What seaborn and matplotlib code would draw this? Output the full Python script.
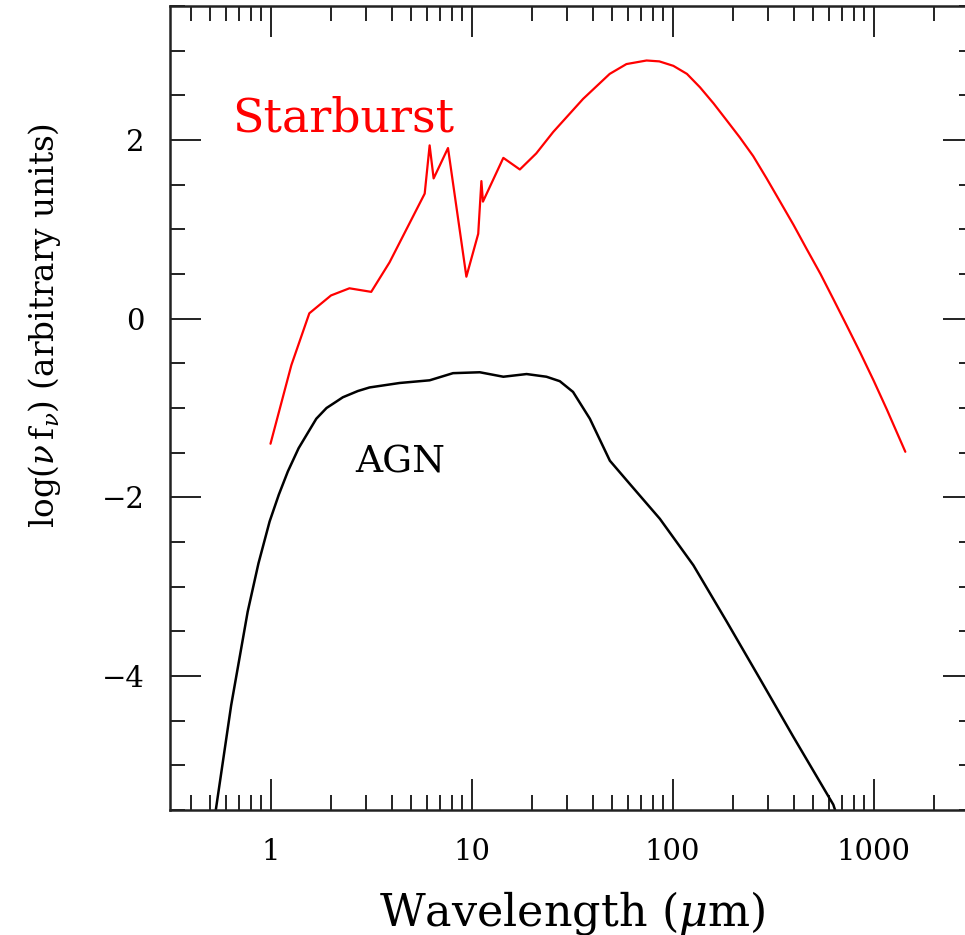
import numpy as np
import pandas as pd
import matplotlib
matplotlib.use("Agg")
import matplotlib.pyplot as plt
import matplotlib.ticker as mticker
import seaborn as sns

# starburst SED (wavelength in micron, log nu f_nu)
sb_wave = [1.0, 1.27, 1.56, 2.0, 2.47, 3.17, 3.91, 5.85, 6.19, 6.48, 7.64, 9.43,
           10.8, 11.2, 11.4, 14.4, 17.4, 21.0, 25.5, 35.9, 48.7, 59.0, 74.3,
           86.0, 101, 118, 137, 160, 186, 216, 252, 294, 343, 400, 465, 545,
           631, 737, 859, 1000, 1167, 1440]
sb_flux = [-1.40, -0.52, 0.06, 0.26, 0.34, 0.30, 0.63, 1.40, 1.94, 1.57, 1.91, 0.47,
           0.95, 1.54, 1.31, 1.80, 1.67, 1.85, 2.09, 2.46, 2.74, 2.85, 2.89,
           2.88, 2.83, 2.74, 2.59, 2.41, 2.22, 2.03, 1.82, 1.57, 1.31, 1.05, 0.78, 0.50,
           0.22, -0.08, -0.38, -0.69, -1.02, -1.49]

# AGN SED
agn_wave = [0.50, 0.536, 0.637, 0.77, 0.871, 0.99, 1.10, 1.22, 1.38, 1.56, 1.69, 1.9,
            2.12, 2.29, 2.72, 3.11, 4.39, 6.19, 8.09, 11.0, 14.4, 18.8, 23.6, 27.5,
            32.0, 38.8, 48.8, 61.3, 86.5, 127, 186, 272, 399, 631, 700]
agn_flux = [-5.95, -5.48, -4.33, -3.28, -2.74, -2.27, -1.97, -1.71, -1.45, -1.25, -1.12, -1.00,
            -0.93, -0.88, -0.81, -0.77, -0.72, -0.69, -0.61, -0.60, -0.65, -0.62, -0.65, -0.70,
            -0.82, -1.12, -1.59, -1.85, -2.24, -2.76, -3.39, -4.03, -4.68, -5.44, -5.75]

x_ticks = [1, 10, 100, 1000]
y_ticks = [-4, -2, 0, 2]

sb = pd.DataFrame({"wave": sb_wave, "flux": sb_flux})
agn = pd.DataFrame({"wave": agn_wave, "flux": agn_flux})

sns.set_style("ticks")
plt.rcParams["font.family"] = ["DejaVu Serif"]
plt.rcParams["mathtext.fontset"] = "dejavuserif"
plt.rcParams["text.color"] = "black"
plt.rcParams["axes.labelcolor"] = "black"
plt.rcParams["xtick.color"] = "black"
plt.rcParams["ytick.color"] = "black"

fig = plt.figure(figsize=(9.65, 9.35), dpi=100)
ax = fig.add_axes([170 / 965, 125 / 935, 804 / 965, 804 / 935])

sns.lineplot(data=sb, x="wave", y="flux", ax=ax, color="#ff0000", lw=1.6,
             sort=False, estimator=None)
sns.lineplot(data=agn, x="wave", y="flux", ax=ax, color="black", lw=1.8,
             sort=False, estimator=None)

ax.set_xscale("log")
ax.set_xlim(10 ** -0.5, 10 ** 3.5)
ax.set_ylim(-5.5, 3.5)

ax.xaxis.set_major_locator(mticker.FixedLocator(x_ticks))
ax.xaxis.set_major_formatter(mticker.FuncFormatter(lambda v, p: f"{v:g}"))
ax.xaxis.set_minor_locator(mticker.LogLocator(base=10, subs=np.arange(2, 10)))
ax.xaxis.set_minor_formatter(mticker.NullFormatter())
ax.yaxis.set_major_locator(mticker.FixedLocator(y_ticks))
ax.yaxis.set_minor_locator(mticker.MultipleLocator(0.5))

ax.tick_params(which="both", direction="in", top=True, right=True, width=1.4,
               color="#222222")
ax.tick_params(which="major", length=22, labelsize=21)
ax.tick_params(axis="x", which="major", pad=20)
ax.tick_params(axis="y", which="major", pad=18)
ax.tick_params(which="minor", length=11)
for s in ax.spines.values():
    s.set_linewidth(1.8)
    s.set_color("#222222")

ax.set_xlabel(r"Wavelength ($\mu$m)", fontsize=32)
ax.xaxis.set_label_coords(0.5, -0.098)
ax.set_ylabel(r"log($\nu\,\mathrm{f}_\nu$) (arbitrary units)", fontsize=23.5)
ax.yaxis.set_label_coords(-0.133, 0.603)

ax.text(0.647, 2.10, "Starburst", color="#ff0000", fontsize=33,
        ha="left", va="baseline")
ax.text(2.65, -1.72, "AGN", color="black", fontsize=27, ha="left", va="baseline")

fig.savefig("out.png", dpi=100)
